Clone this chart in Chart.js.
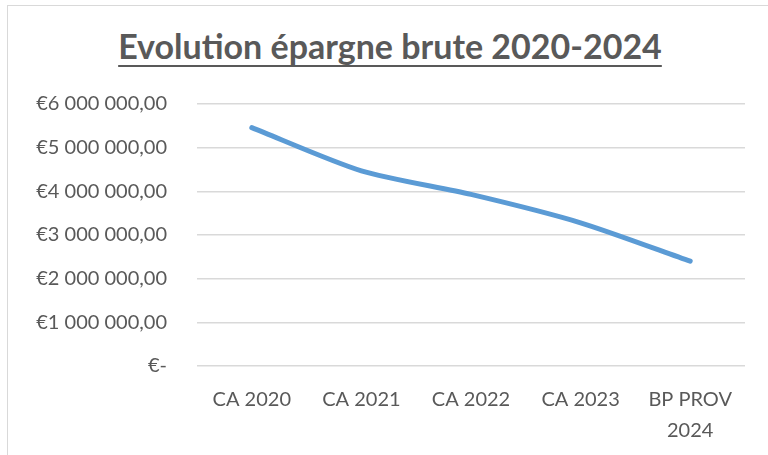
<!DOCTYPE html>
<html>
<head>
<meta charset="utf-8">
<script src="https://cdn.jsdelivr.net/npm/chart.js@4/dist/chart.umd.min.js"></script>
<style>
  html, body { margin:0; padding:0; background:#fff; }
  #wrap { position:relative; width:768px; height:455px; overflow:hidden; }
  #frame { position:absolute; left:7px; top:5px; width:800px; height:500px; border:1px solid #d9d9d9; box-sizing:border-box; }
  #title { position:absolute; left:0; width:780px; top:26px; text-align:center; margin:0;
    font: bold 34px Lato, "Open Sans", sans-serif; color:#595959; text-decoration:underline;
    text-decoration-thickness:2px; text-underline-offset:6px; line-height:40px; }
  canvas { position:absolute; left:0; top:0; }
</style>
</head>
<body>
<div id="wrap">
  <div id="frame"></div>
  <h1 id="title">Evolution épargne brute 2020-2024</h1>
  <canvas id="chart" width="768" height="455"></canvas>
</div>
<script>
// data
const categories = ['CA 2020', 'CA 2021', 'CA 2022', 'CA 2023', ['BP PROV', '2024']];
const epargne = [5460000, 4470000, 3930000, 3280000, 2400000];
const yTicks = [0, 1000000, 2000000, 3000000, 4000000, 5000000, 6000000];

function euro(v){
  if(v === 0) return '€-';
  const s = Math.round(v).toString().replace(/\B(?=(\d{3})+(?!\d))/g, ' ');
  return '€' + s + ',00';
}

new Chart(document.getElementById('chart'), {
  type: 'line',
  data: {
    labels: categories,
    datasets: [{
      data: epargne,
      borderColor: '#5b9bd5',
      borderWidth: 5,
      pointRadius: 0,
      tension: 0.25,
      borderCapStyle: 'round',
      fill: false
    }]
  },
  options: {
    responsive: false,
    animation: false,
    layout: { padding: { left: 0, right: 23, top: 104, bottom: 10 } },
    plugins: { legend: { display: false }, tooltip: { enabled: false } },
    scales: {
      x: {
        offset: true,
        grid: { display: false },
        border: { display: false },
        afterFit: axis => { axis.height = 79; },
        ticks: { color: '#595959', padding: 10, maxRotation: 0, font: { family: 'Lato', size: 20, lineHeight: 1.55 } }
      },
      y: {
        min: 0, max: 6000000,
        afterBuildTicks: axis => { axis.ticks = yTicks.map(v => ({ value: v })); },
        afterFit: axis => { axis.width = 197; },
        grid: { color: '#d9d9d9', lineWidth: 1.5, drawTicks: false },
        border: { display: false },
        ticks: { color: '#595959', padding: 30, callback: euro, font: { family: 'Lato', size: 20 } }
      }
    }
  }
});
</script>
</body>
</html>
